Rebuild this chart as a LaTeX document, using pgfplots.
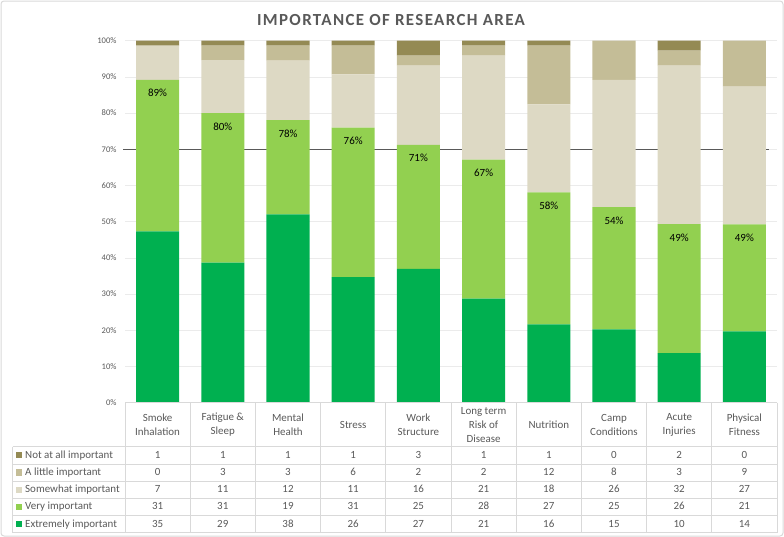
\documentclass[border=0pt]{standalone}
\usepackage{pgfplots}
\pgfplotsset{compat=1.18}
\usepackage{pgfplotstable}
\usepackage{fontspec}
\setmainfont{Carlito}
\newfontfamily\titlefont[LetterSpace=8]{Carlito}

\definecolor{cNot}{HTML}{948A54}
\definecolor{cLit}{HTML}{C4BD97}
\definecolor{cSom}{HTML}{DDD9C4}
\definecolor{cVer}{HTML}{92D050}
\definecolor{cExt}{HTML}{00B050}
\definecolor{txt}{HTML}{595959}
\definecolor{gridc}{HTML}{EBEBEB}
\definecolor{tabc}{HTML}{D9D9D9}

\pgfplotstableread{
x ne li so ve ex tot lab
0 1 0 7 31 35 74 89
1 1 3 11 31 29 75 80
2 1 3 12 19 38 73 78
3 1 6 11 31 26 75 76
4 3 2 16 25 27 73 71
5 1 2 21 28 21 73 67
6 1 12 18 27 16 74 58
7 0 8 26 25 15 74 54
8 2 3 32 26 10 73 49
9 0 9 27 21 14 71 49
}\data

\pgfplotsset{common/.style={
  at={(125bp,-402.7bp)}, anchor=south west,
  scale only axis, width=652bp, height=362bp,
  xmin=-0.5, xmax=9.5, ymin=0, ymax=100,
  clip=false}}

\begin{document}
\begin{tikzpicture}
\useasboundingbox (0,0) rectangle (784bp,-537bp);
\draw[tabc, line width=1bp, rounded corners=3bp] (1bp,-1bp) rectangle (783bp,-536bp);
\node[font=\titlefont\bfseries\fontsize{17}{19}\selectfont, text=txt] at (391bp,-20.3bp) {IMPORTANCE OF RESEARCH AREA};
\begin{axis}[
  common,
  ybar stacked, bar width=0.66,
  xtick=\empty,
  ytick={0,10,...,100},
  yticklabel={\pgfmathprintnumber{\tick}\%},
  ymajorgrids, grid style={draw=gridc, line width=0.75bp},
  axis line style={draw=none},
  major tick length=0pt,
  /pgf/number format/assume math mode=true,
  yticklabel style={font=\fontsize{8.6}{10}\selectfont, text=txt, xshift=-5bp},
]
\addplot[fill=cExt, draw=none] table[x=x, y expr=\thisrow{ex}/\thisrow{tot}*100] {\data};
\addplot[fill=cVer, draw=none] table[x=x, y expr=\thisrow{ve}/\thisrow{tot}*100] {\data};
\addplot[fill=cSom, draw=none] table[x=x, y expr=\thisrow{so}/\thisrow{tot}*100] {\data};
\addplot[fill=cLit, draw=none] table[x=x, y expr=\thisrow{li}/\thisrow{tot}*100] {\data};
\addplot[fill=cNot, draw=none] table[x=x, y expr=\thisrow{ne}/\thisrow{tot}*100] {\data};
\draw[color=txt, line width=0.9bp] (axis cs:-0.53,70) -- (axis cs:9.377,70);
\end{axis}
\begin{axis}[common, hide axis]
\addplot[draw=none, mark=none,
  nodes near coords={\pgfmathprintnumber{\pgfplotspointmeta}\%},
  point meta=explicit,
  every node near coord/.append style={anchor=north, yshift=-6bp, font=\fontsize{11}{12}\selectfont, text=black, /pgf/number format/assume math mode=true}]
  table[x=x, y expr=(\thisrow{ex}+\thisrow{ve})/\thisrow{tot}*100, meta=lab] {\data};
\end{axis}
\begin{scope}[x=1bp, y=-1bp]
  \draw[tabc, line width=0.8bp] (125,402.7) -- (777,402.7);
  \foreach \yy in {446.7,463.9,481.1,498.3,515.5,532.7}
    \draw[tabc, line width=0.8bp] (12.7,\yy) -- (777,\yy);
  \draw[tabc, line width=0.8bp] (12.7,446.7) -- (12.7,532.7);
  \foreach \k in {0,...,10}
    \draw[tabc, line width=0.8bp] ({125+65.2*\k},402.7) -- ({125+65.2*\k},532.7);
  \foreach \n [count=\i from 0] in {{Smoke\\Inhalation},{Fatigue \&\\Sleep},{Mental\\Health},{Stress},{Work\\Structure},{Long term\\Risk of\\Disease},{Nutrition},{Camp\\Conditions},{Acute\\Injuries},{Physical\\Fitness}}
    \node[align=center, font=\fontsize{11}{13.8}\selectfont, text=txt] at ({157.6+65.2*\i},424.8) {\n};
  \foreach \lab/\col/\key [count=\r from 0] in {Not at all important/cNot/ne, A little important/cLit/li, Somewhat important/cSom/so, Very important/cVer/ve, Extremely important/cExt/ex} {
    \pgfmathsetmacro{\yc}{455.3+17.2*\r}
    \fill[\col] (16,\yc-3.1) rectangle (22.3,\yc+3.1);
    \node[anchor=west, inner sep=0pt, font=\fontsize{11}{12}\selectfont, text=txt, text height=1.5ex, text depth=0.25ex] at (25,\yc) {\lab};
    \foreach \i in {0,...,9} {
      \pgfplotstablegetelem{\i}{\key}\of\data
      \node[inner sep=0pt, font=\fontsize{11}{12}\selectfont, text=txt, text height=1.5ex, text depth=0.25ex] at ({157.6+65.2*\i},\yc) {\pgfplotsretval};
    }
  }
\end{scope}
\end{tikzpicture}
\end{document}
